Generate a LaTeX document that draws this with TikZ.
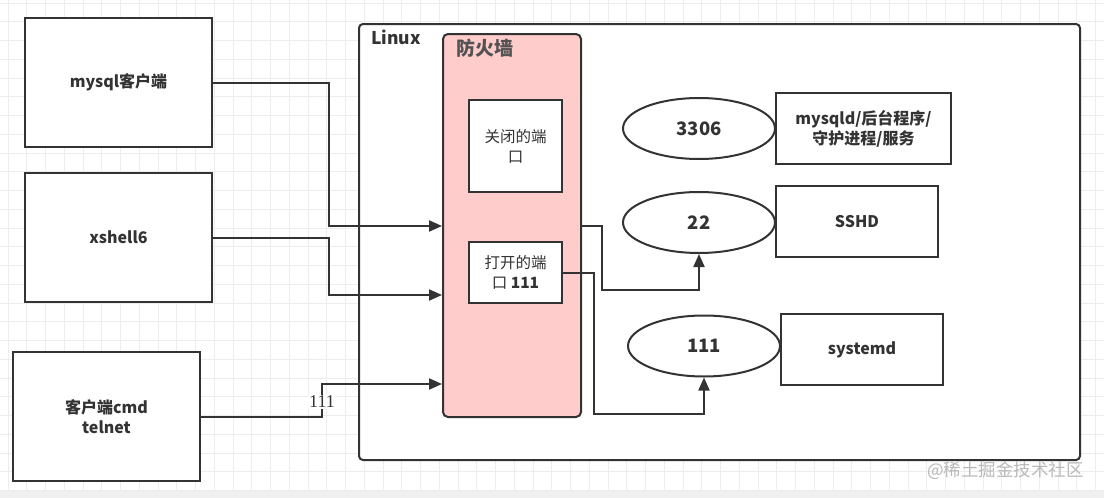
\documentclass[tikz,border=0pt]{standalone}
\usepackage{fontspec}
\setmainfont{Noto Sans CJK SC}
\newfontfamily\numserif{Liberation Serif}
\usetikzlibrary{arrows.meta,shapes.geometric}
\definecolor{ink}{HTML}{333333}
\definecolor{fwpink}{HTML}{FFCCCC}
\definecolor{gridc}{HTML}{EDEDED}
\tikzset{
  box/.style={draw=ink,line width=2pt,fill=white,inner sep=2pt,align=center,font=\fontsize{16}{20}\selectfont\bfseries,text=ink},
  portbox/.style={draw=ink,line width=2pt,fill=white,inner sep=2pt,align=center,font=\fontsize{15.5}{20}\selectfont,text=ink},
  port/.style={ellipse,draw=ink,line width=2pt,fill=white,inner sep=0pt,minimum width=152pt,minimum height=61pt,font=\fontsize{18.5}{20}\selectfont\bfseries,text=ink},
  conn/.style={draw=ink,line width=2pt},
  arr/.style={conn,-{Triangle[length=13pt,width=11pt]}},
}
\begin{document}
\begin{tikzpicture}[x=1pt,y=-1pt]
\useasboundingbox (0,0) rectangle (1104,498);
% background grid
\fill[white] (0,0) rectangle (1104,498);
\foreach \i in {0,...,60} {\draw[gridc,line width=0.7pt] (8+\i*18.75,0) -- (8+\i*18.75,490);}
\foreach \j in {0,...,26} {\draw[gridc,line width=0.7pt] (0,3+\j*18.75) -- (1104,3+\j*18.75);}
\fill[gray!12] (0,491) rectangle (1104,498);

% clients
\node[box,minimum width=187pt,minimum height=129pt] (my) at (118.5,82.5) {mysql客户端};
\node[box,minimum width=187pt,minimum height=129pt] (xs) at (118.5,237.5) {xshell6};
\node[box,minimum width=187pt,minimum height=129pt] (cm) at (106.5,416.5) {客户端cmd\\telnet};

% Linux
\node[draw=ink,line width=2pt,fill=white,rounded corners=4pt,minimum width=721pt,minimum height=436pt,inner sep=0pt] (lx) at (719.5,242) {};
\node[anchor=west,font=\fontsize{17.5}{19}\selectfont\bfseries,text=ink,inner sep=0pt] (lxl) at (371,37) {Linux};

% firewall
\node[draw=ink,line width=2pt,fill=fwpink,rounded corners=5pt,minimum width=138pt,minimum height=383pt,inner sep=0pt] (fw) at (512,225.5) {};
\node[anchor=west,font=\fontsize{19}{21}\selectfont\bfseries,text=ink!85,inner sep=0pt] (fwl) at (456,48) {防火墙};
\node[portbox,minimum width=93pt,minimum height=92pt] (cl) at (515.5,146) {关闭的端\\口};
\node[portbox,minimum width=93pt,minimum height=61pt] (op) at (515.5,272.5) {打开的端\\口 \textbf{111}};

% left connectors
\draw[arr] (my.east) -- (329,82.5) |- (fw.west |- 0,226);
\draw[arr] (xs.east) -- (329,237.5) |- (fw.west |- 0,295);
\draw[arr] (cm.east) -- (322,416.5) -- (322,384) -- (fw.west |- 0,384);
\node[fill=white,inner sep=1pt,font=\numserif\fontsize{18}{18}\selectfont,text=ink] (lbl) at (322,402) {111};

% right side
\node[port] (e3306) at (699,128.5) {3306};
\node[port] (e22) at (699,222.5) {22};
\node[port] (e111) at (704,346) {111};
\node[box,minimum width=175pt,minimum height=71pt] (sv1) at (863.5,128.5) {mysqld/后台程序/\\守护进程/服务};
\node[box,minimum width=162pt,minimum height=71pt] (sv2) at (857,221.5) {SSHD};
\node[box,minimum width=162pt,minimum height=71pt] (sv3) at (862,349.5) {systemd};

\draw[arr] (fw.east |- 0,226) -- (602,226) |- (e22.south |- 0,290) -- (e22.south);
\draw[arr] (op.east) -- (594,272.5) |- (e111.south |- 0,414) -- (e111.south);

% watermark
\node[anchor=west,font=\fontsize{17.5}{18}\selectfont,text=gray!55,inner sep=0pt] (wm) at (927,471) {@稀土掘金技术社区};
\end{tikzpicture}
\end{document}
